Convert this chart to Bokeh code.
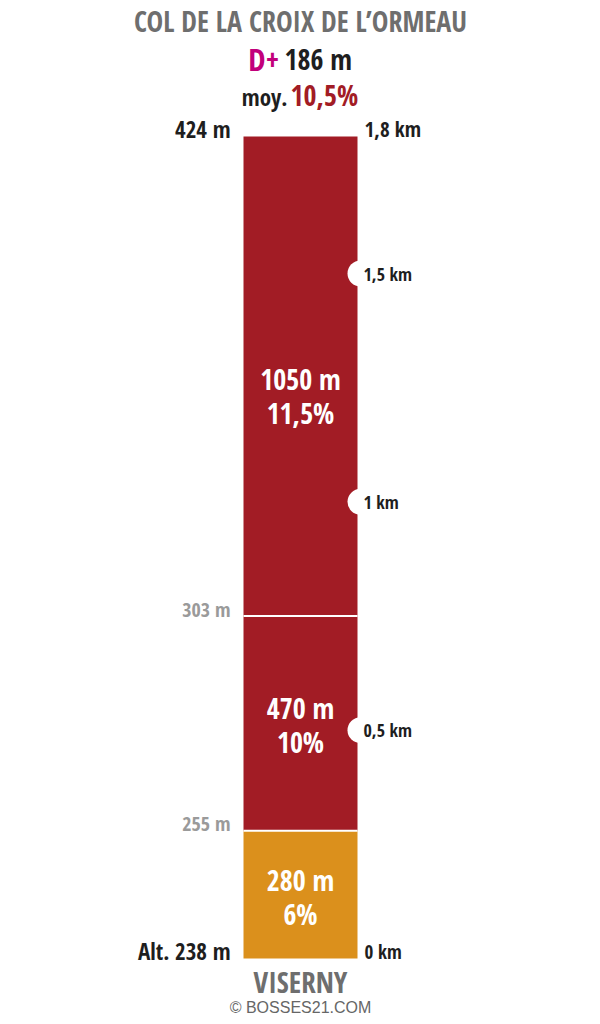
from bokeh.plotting import figure
from bokeh.models import Range1d
from bokeh.core.properties import value
from bokeh.embed import file_html
from bokeh.resources import INLINE

# ---- data ----
title = "COL DE LA CROIX DE L\u2019ORMEAU"
start_name = "VISERNY"
credit = "\u00a9 BOSSES21.COM"
seg_lengths = [280, 470, 1050]          # metres
seg_grades = ["6%", "10%", "11,5%"]
seg_alt_start = [238, 255, 303]
alt_top = 424
total_gain = 186
mean_grade = "10,5%"
km_marks = [0.5, 1.0, 1.5]
km_labels = ["0,5 km", "1 km", "1,5 km"]
total_km_label = "1,8 km"

# ---- styles ----
RED = "#A21C25"
ORANGE = "#DB901C"
DARK = "#1E1E1E"
GREY = "#6E6E6E"
LIGHTGREY = "#9A9A9A"
MAGENTA = "#C2007B"
FONT = "'Open Sans Condensed', 'Roboto Condensed', sans-serif"
seg_colors = [ORANGE, RED, RED]
label_shift_px = [0, 0, 18]

total = sum(seg_lengths)
PX0, PX1 = 958.0, 136.0                 # pixel rows of 0 m and top
k = (PX0 - PX1) / total


def ym(py):
    """pixel row (page) -> metres"""
    return (PX0 - py) / k


W, H = 600, 1024
p = figure(width=W, height=H, output_backend="svg", toolbar_location=None,
           x_range=Range1d(0, W), y_range=Range1d(ym(H), ym(0)),
           min_border=0)
p.axis.visible = False
p.grid.visible = False
p.outline_line_color = None
p.background_fill_color = "white"

BX0, BX1 = 243, 357
bottoms = [sum(seg_lengths[:i]) for i in range(len(seg_lengths))]
tops = [b + l for b, l in zip(bottoms, seg_lengths)]
p.quad(left=BX0, right=BX1, bottom=bottoms, top=tops, fill_color=seg_colors,
       line_color=None)
# separators
p.segment(x0=BX0, x1=BX1, y0=bottoms[1:], y1=bottoms[1:], line_color="white",
          line_width=2)
# km notches
p.scatter(x=[BX1 + 3] * len(km_marks), y=[m * 1000 for m in km_marks], size=26,
          marker="circle", fill_color="white", line_color=None)


def txt(x, y, s, size, color, align="center", baseline="middle", font=FONT,
        style="bold"):
    p.text(x=[x], y=[y], text=[s], text_font=value(font),
           text_font_size=f"{size}px", text_font_style=style,
           text_color=color, text_align=align, text_baseline=baseline)


# segment labels
for b, t, l, g, sh in zip(bottoms, tops, seg_lengths, seg_grades, label_shift_px):
    midp = PX0 - (b + t) / 2 * k + sh
    txt(300, ym(midp - 15), f"{l} m", 28, "white")
    txt(300, ym(midp + 19), g, 28, "white")

# km labels
for m, lab in zip(km_marks, km_labels):
    txt(363, m * 1000, lab, 18, DARK, align="left")
txt(364, ym(951), "0 km", 19, DARK, align="left")
txt(364, ym(128), total_km_label, 21, DARK, align="left")

# altitude labels
txt(230, ym(128), f"{alt_top} m", 23, DARK, align="right")
txt(230, ym(950), f"Alt. {seg_alt_start[0]} m", 23, DARK, align="right")
for b, a in zip(bottoms[1:], seg_alt_start[1:]):
    txt(230, ym(PX0 - b * k - 7), f"{a} m", 20, LIGHTGREY, align="right")

# header
txt(300, ym(20), title, 28, GREY)
txt(279, ym(58), "D+", 31, MAGENTA, align="right")
txt(284, ym(58), f"{total_gain} m", 28, DARK, align="left")
txt(287, ym(96), "moy.", 23, DARK, align="right")
txt(290, ym(94), mean_grade, 28, RED, align="left")

# footer
txt(300, ym(981), start_name, 29, GREY)
txt(300, ym(1007), credit, 16, "#666666", font="Liberation Sans", style="normal")

open("out.html", "w").write(file_html(p, INLINE))
